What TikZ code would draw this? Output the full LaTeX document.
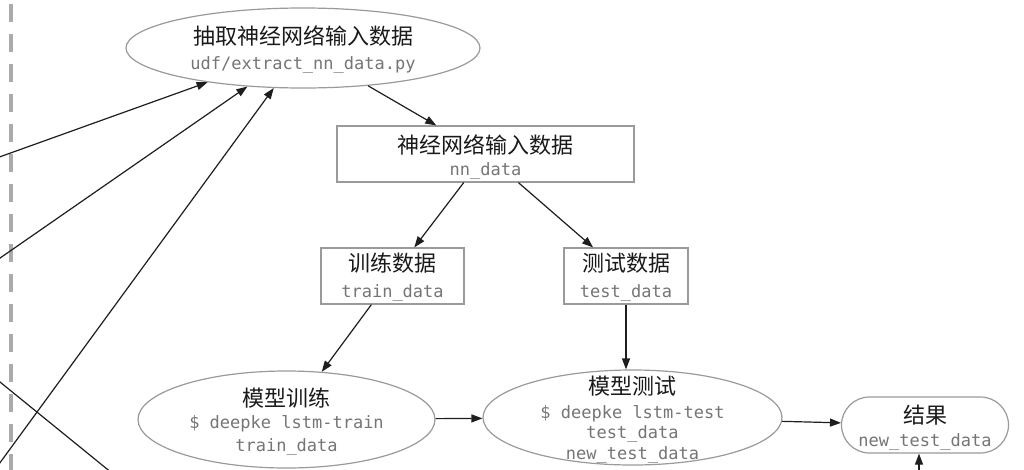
\documentclass[tikz,border=0pt]{standalone}
\usepackage{fontspec}
\usetikzlibrary{arrows.meta,shapes.geometric,shapes.misc}
\newfontfamily\cjk{Noto Sans CJK SC}
\newfontfamily\code{DejaVu Sans Mono}
\definecolor{edgegray}{HTML}{9A9A9A}
\definecolor{labelgray}{HTML}{757575}
\definecolor{inkblack}{HTML}{1A1A1A}
\definecolor{clustergray}{HTML}{ABABAB}
\definecolor{wiregray}{HTML}{1E1E1E}
\tikzset{
  base/.style={draw=edgegray, line width=1.2pt, inner sep=0pt},
  proc/.style={base, ellipse},
  databox/.style={base, rectangle},
  resultbox/.style={base, rounded rectangle},
  % title line and command/file line of each node, set on their baselines
  titletext/.style={anchor=base, inner sep=0pt, text=inkblack,
    font=\fontsize{22}{24}\cjk\selectfont},
  codetext/.style={anchor=base, inner sep=0pt, text=labelgray,
    font=\fontsize{17}{20}\code\selectfont},
  flow/.style={draw=wiregray, line width=1.2pt, -{Triangle[length=11pt,width=8pt]}},
  wire/.style={draw=wiregray, line width=1.2pt},
  cluster/.style={draw=clustergray, line width=3.5pt, dash pattern=on 18pt off 12pt},
}
\begin{document}
\begin{tikzpicture}[x=1pt, y=-1pt]
\useasboundingbox (0,0) rectangle (1024,469);
\fill[white] (0,0) rectangle (1024,469);
\clip (0,0) rectangle (1024,469);

% cluster border on the left
\coordinate (clustertop) at (11,4);
\coordinate (clusterbottom) at (11,500);
\draw[cluster] (clustertop) -- (clusterbottom);

% node outlines
\node[proc, minimum width=354pt, minimum height=80pt] (extract) at (303,48) {};
\node[databox, minimum width=297pt, minimum height=56pt] (nndata) at (485.5,154) {};
\node[databox, minimum width=143pt, minimum height=56pt] (train) at (392.5,276) {};
\node[databox, minimum width=124pt, minimum height=56pt] (test) at (626,276) {};
\node[proc, minimum width=297pt, minimum height=97pt] (mtrain) at (286.5,419.5) {};
\node[proc, minimum width=299pt, minimum height=95pt] (mtest) at (632.5,417.5) {};
\node[resultbox, minimum width=167pt, minimum height=56pt] (result) at (925,425) {};

% node texts
\node[titletext] (extract-t) at (303,44.5) {抽取神经网络输入数据};
\node[codetext]  (extract-c) at (303,69.5) {udf/extract\_nn\_data.py};
\node[titletext] (nndata-t) at (485.5,153.5) {神经网络输入数据};
\node[codetext]  (nndata-c) at (485.5,175.5) {nn\_data};
\node[titletext] (train-t) at (392.5,271.5) {训练数据};
\node[codetext]  (train-c) at (392.5,297) {train\_data};
\node[titletext] (test-t) at (626,271.5) {测试数据};
\node[codetext]  (test-c) at (626,297) {test\_data};
\node[titletext] (mtrain-t) at (286.5,406.5) {模型训练};
\node[codetext]  (mtrain-c1) at (286.5,428) {\$ deepke lstm-train};
\node[codetext]  (mtrain-c2) at (286.5,451) {train\_data};
\node[titletext] (mtest-t) at (632.5,394.5) {模型测试};
\node[codetext]  (mtest-c1) at (632.5,418) {\$ deepke lstm-test};
\node[codetext]  (mtest-c2) at (632.5,438) {test\_data};
\node[codetext]  (mtest-c3) at (632.5,459) {new\_test\_data};
\node[titletext] (result-t) at (925,423.5) {结果};
\node[codetext]  (result-c) at (925,446.5) {new\_test\_data};

% sources lying outside the visible area
\coordinate (srcA) at (-100,192.7);
\coordinate (srcB) at (-100,327.4);
\coordinate (srcC) at (-100,599.6);
\coordinate (crossA) at (-100,300.7);
\coordinate (crossB) at (200,544.6);
\coordinate (srcD) at (919,560);

% connectors
\draw[flow] (srcA) -- (extract);
\draw[flow] (srcB) -- (extract);
\draw[flow] (srcC) -- (extract);
\draw[wire] (crossA) -- (crossB);
\draw[flow] (extract) -- (nndata);
\draw[flow] (nndata) -- (train);
\draw[flow] (nndata) -- (test);
\draw[flow] (train) -- (mtrain);
\draw[flow] (test) -- (test |- mtest.north);
\draw[flow] (mtrain) -- (mtest);
\draw[flow] (mtest) -- (result);
\draw[flow] (srcD) -- (srcD |- result.south);
\end{tikzpicture}
\end{document}
